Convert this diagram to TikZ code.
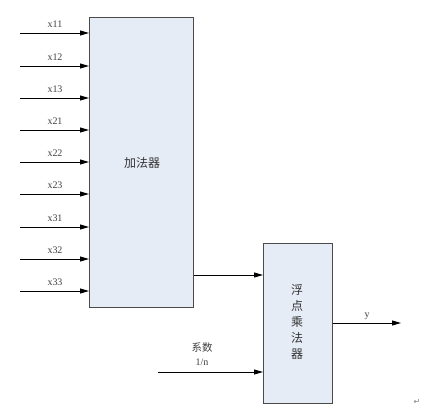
\documentclass[tikz,border=0pt]{standalone}
\usepackage{fontspec}
\setmainfont{Liberation Serif}
\newfontfamily\cjk{Noto Sans CJK SC}
\newfontfamily\dejavu{DejaVu Sans}
\usetikzlibrary{arrows.meta}
\definecolor{boxfill}{HTML}{E6ECF6}
\definecolor{boxline}{HTML}{4A4A4A}
\tikzset{
  blockbox/.style={draw=boxline, line width=1.2pt, fill=boxfill, inner sep=0pt},
  sig/.style={line width=0.9pt, -{Triangle[length=9pt,width=5pt]}},
  lbl/.style={font=\fontsize{10}{11}\selectfont, inner sep=0pt, text=black!75},
  cn/.style={font=\cjk\fontsize{12}{16}\selectfont, text=black!80, inner sep=0pt}
}
\begin{document}
\begin{tikzpicture}[x=1pt,y=-1pt]
\useasboundingbox (0,0) rectangle (448,416);
% adder
\node[blockbox, minimum width=104pt, minimum height=290pt, anchor=north west] (add) at (89,17) {};
\node[cn] (addlbl) at (142,163) {加法器};
% multiplier
\node[blockbox, minimum width=69pt, minimum height=160pt, anchor=north west] (mul) at (263,243) {};
\node[cn, align=center] (mullbl) at (297,322) {浮\\点\\乘\\法\\器};
% inputs
\foreach \n/\yy in {x11/33,x12/66,x13/98,x21/130,x22/162,x23/194,x31/227,x32/259,x33/291}{
  \coordinate (s\n) at (20,\yy);
  \draw[sig] (s\n) -- (s\n -| add.west);
  \node[lbl] (l\n) at (55,\yy-9) {\n};
}
% adder to multiplier
\coordinate (ao) at (add.east |- 0,275);
\draw[sig] (ao) -- (ao -| mul.west);
% coefficient
\coordinate (cs) at (158,372);
\draw[sig] (cs) -- (cs -| mul.west);
\node[font=\cjk\fontsize{10.5}{11}\selectfont, inner sep=0pt, text=black!75] (coef) at (202,348) {系数};
\node[lbl] (coefn) at (202,362) {1/n};
% output
\coordinate (mo) at (mul.east |- 0,323);
\coordinate (yout) at (401,323);
\draw[sig] (mo) -- (yout);
\node[lbl] (ylbl) at (367,316) {y};
% paragraph mark
\node[font=\dejavu\fontsize{8}{9}\selectfont, text=black!50, inner sep=0pt] (pm) at (417,402) {↵};
\end{tikzpicture}
\end{document}
